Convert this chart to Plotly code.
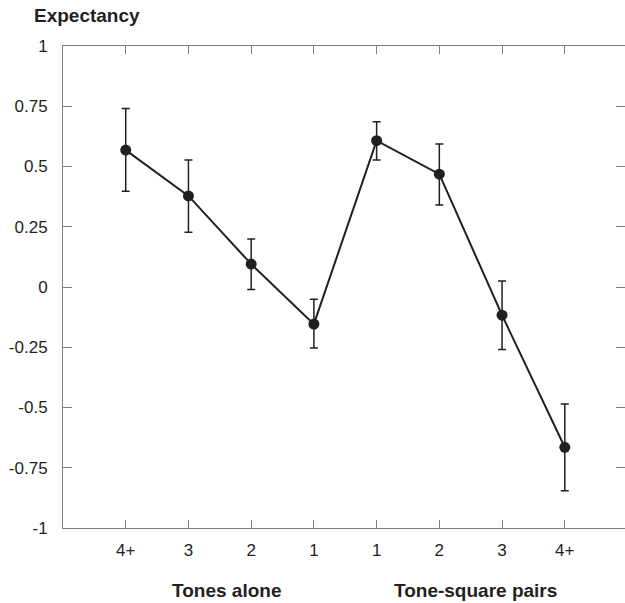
import plotly.graph_objects as go

# Data
tick_labels = ["4+", "3", "2", "1", "1", "2", "3", "4+"]
group_labels = ["Tones alone", "Tone-square pairs"]
expectancy = [0.568, 0.378, 0.095, -0.154, 0.607, 0.468, -0.117, -0.665]
err_upper = [0.741, 0.527, 0.199, -0.051, 0.686, 0.593, 0.025, -0.485]
err_lower = [0.397, 0.227, -0.010, -0.253, 0.527, 0.340, -0.259, -0.845]
y_ticks = [1, 0.75, 0.5, 0.25, 0, -0.25, -0.5, -0.75, -1]
y_ticktext = ["1", "0.75", "0.5", "0.25", "0", "-0.25", "-0.5", "-0.75", "-1"]

x_pos = list(range(1, len(tick_labels) + 1))
plus = [u - m for u, m in zip(err_upper, expectancy)]
minus = [m - l for m, l in zip(expectancy, err_lower)]

FONT = "Liberation Sans, Arial, Helvetica, sans-serif"
INK = "#231f20"
AXIS = "#808080"

fig = go.Figure()
fig.add_trace(go.Scatter(
    x=x_pos, y=expectancy, mode="lines+markers",
    line=dict(color=INK, width=2),
    marker=dict(color=INK, size=11),
    error_y=dict(type="data", symmetric=False, array=plus, arrayminus=minus,
                 color=INK, thickness=1.5, width=4),
    showlegend=False,
))

fig.update_layout(
    width=625, height=603,
    margin=dict(l=63, r=0, t=46, b=75),
    paper_bgcolor="white", plot_bgcolor="white",
    font=dict(family=FONT, size=17, color=INK),
    xaxis=dict(range=[0, 8.96], tickvals=x_pos, ticktext=tick_labels,
               showgrid=False, zeroline=False, showline=True, linecolor=AXIS,
               linewidth=1, mirror="ticks", ticks="inside", ticklen=8,
               tickcolor=AXIS, tickfont=dict(size=17, family=FONT, color=INK),
               ticklabelstandoff=7),
    yaxis=dict(range=[-1, 1], tickvals=y_ticks, ticktext=y_ticktext,
               showgrid=False, zeroline=False, showline=True, linecolor=AXIS,
               linewidth=1, mirror="ticks", ticks="inside", ticklen=9,
               tickcolor=AXIS, tickfont=dict(size=17, family=FONT, color=INK),
               ticklabelstandoff=11),
)

annotations = [
    dict(text="<b>Expectancy</b>", xref="paper", yref="paper", x=0, y=1,
         xanchor="left", yanchor="middle", xshift=-31, yshift=31,
         showarrow=False, font=dict(size=19, family=FONT, color=INK)),
    dict(text="<b>" + group_labels[0] + "</b>", xref="x", yref="paper",
         x=2.6, y=0, xanchor="center", yanchor="middle", yshift=-62,
         showarrow=False, font=dict(size=19, family=FONT, color=INK)),
    dict(text="<b>" + group_labels[1] + "</b>", xref="x", yref="paper",
         x=6.58, y=0, xanchor="center", yanchor="middle", yshift=-62,
         showarrow=False, font=dict(size=19, family=FONT, color=INK)),
]
fig.update_layout(annotations=annotations)

# Remove the browser's default 8px page margin so the figure fills the window.
fig.write_html("out.html",
               config={"displayModeBar": False, "staticPlot": True},
               post_script="document.body.style.margin='0';"
                           "document.body.style.overflow='hidden';")
